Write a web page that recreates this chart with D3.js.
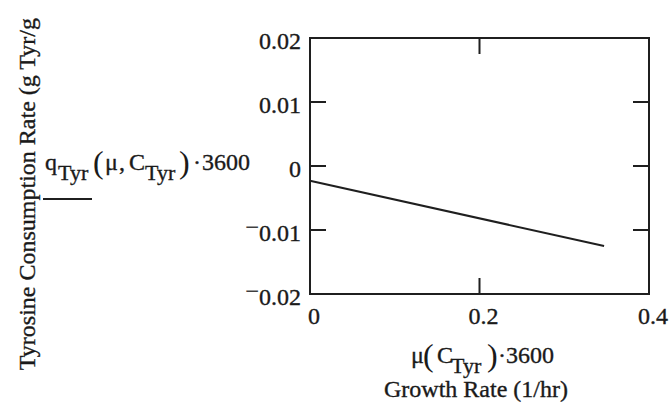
<!DOCTYPE html>
<html>
<head>
<meta charset="utf-8">
<script src="https://cdn.jsdelivr.net/npm/d3@7/dist/d3.min.js"></script>
<style>
  html, body { margin: 0; padding: 0; background: #fff; }
  svg { display: block; }
  text { font-family: "Liberation Serif", "Times New Roman", serif; fill: #1a1a1a; stroke: #1a1a1a; stroke-width: 0.35px; }
</style>
</head>
<body>
<svg id="chart" width="670" height="404"></svg>
<script>
// Growth rate (1/hr) and tyrosine consumption rate along the computed trace
const growthRate = [0, 0.347];
const consumptionRate = [-0.0023, -0.0125];

// Axis ticks
const xTicks = [0, 0.2, 0.4];
const xTickLabels = ["0", "0.2", "0.4"];
const yTicks = [0.02, 0.01, 0, -0.01, -0.02];
const yTickLabels = ["0.02", "0.01", "0", "-0.01", "-0.02"];

const plot = { left: 310, right: 649, top: 38, bottom: 294 };
const ink = "#1f1f1f";
const fs = 24;

const svg = d3.select("#chart");

const x = d3.scaleLinear().domain([0, 0.4]).range([plot.left, plot.right]);
const y = d3.scaleLinear().domain([-0.02, 0.02]).range([plot.bottom, plot.top]);

// Frame
svg.append("rect")
  .attr("x", plot.left).attr("y", plot.top)
  .attr("width", plot.right - plot.left).attr("height", plot.bottom - plot.top)
  .attr("fill", "none").attr("stroke", ink).attr("stroke-width", 2);

// Inward ticks on all four sides
const tickLen = 16;
const g = svg.append("g").attr("stroke", ink).attr("stroke-width", 2);
yTicks.forEach(v => {
  g.append("line").attr("x1", x(0)).attr("x2", x(0) + tickLen).attr("y1", y(v)).attr("y2", y(v));
  g.append("line").attr("x1", x(0.4)).attr("x2", x(0.4) - tickLen).attr("y1", y(v)).attr("y2", y(v));
});
xTicks.forEach(v => {
  g.append("line").attr("x1", x(v)).attr("x2", x(v)).attr("y1", y(-0.02)).attr("y2", y(-0.02) - tickLen);
  g.append("line").attr("x1", x(v)).attr("x2", x(v)).attr("y1", y(0.02)).attr("y2", y(0.02) + tickLen);
});

// Tick labels (raised minus sign)
yTicks.forEach((v, i) => {
  const lab = yTickLabels[i];
  const t = svg.append("text")
    .attr("x", plot.left - 9).attr("y", y(v) + 11)
    .attr("text-anchor", "end").attr("font-size", fs);
  if (lab.startsWith("-")) {
    t.append("tspan").attr("dy", -6).text("\u2212");
    t.append("tspan").attr("dy", 6).text(lab.slice(1));
  } else {
    t.text(lab);
  }
});
xTicks.forEach((v, i) => {
  svg.append("text")
    .attr("x", x(v) + 4).attr("y", plot.bottom + 30)
    .attr("text-anchor", "middle").attr("font-size", fs)
    .text(xTickLabels[i]);
});

// Trace
const line = d3.line().x((d, i) => x(growthRate[i])).y(d => y(d));
svg.append("path")
  .datum(consumptionRate)
  .attr("d", line)
  .attr("fill", "none").attr("stroke", ink).attr("stroke-width", 2);

// Y-axis title
svg.append("text")
  .attr("transform", "translate(35,18) rotate(-90)")
  .attr("text-anchor", "end").attr("font-size", fs)
  .text("Tyrosine Consumption Rate (g Tyr/g");

// Math expression: each part placed at its own x, subscripts dropped, tall parentheses
function expr(parent, y0, parts) {
  const t = parent.append("text").attr("y", y0).attr("font-size", fs);
  parts.forEach(p => {
    const off = p.sub ? 10 : (p.paren ? 3 : 0);
    const s = t.append("tspan").attr("x", p.x).attr("y", y0 + off).text(p.t);
    if (p.sub) s.attr("font-size", 22);
    if (p.paren) s.attr("font-size", 32).style("stroke-width", "0px");
  });
  return t;
}
expr(svg, 170, [
  { t: "q", x: 45 }, { t: "Tyr", x: 58, sub: true },
  { t: "(", x: 93, paren: true }, { t: "\u03bc", x: 105 }, { t: ",", x: 119 },
  { t: "C", x: 129 }, { t: "Tyr", x: 145, sub: true },
  { t: ")", x: 179, paren: true }, { t: "\u00b7", x: 193 }, { t: "3600", x: 202 }
]);

// Legend sample for the trace
svg.append("line")
  .attr("x1", 43).attr("x2", 92).attr("y1", 199).attr("y2", 199)
  .attr("stroke", ink).attr("stroke-width", 2);

// X-axis expression and title
expr(svg, 363, [
  { t: "\u03bc", x: 411 }, { t: "(", x: 423, paren: true }, { t: "C", x: 437 },
  { t: "Tyr", x: 451, sub: true }, { t: ")", x: 487, paren: true },
  { t: "\u00b7", x: 498 }, { t: "3600", x: 506 }
]);
svg.append("text")
  .attr("x", 476).attr("y", 397)
  .attr("text-anchor", "middle").attr("font-size", fs)
  .text("Growth Rate (1/hr)");
</script>
</body>
</html>
